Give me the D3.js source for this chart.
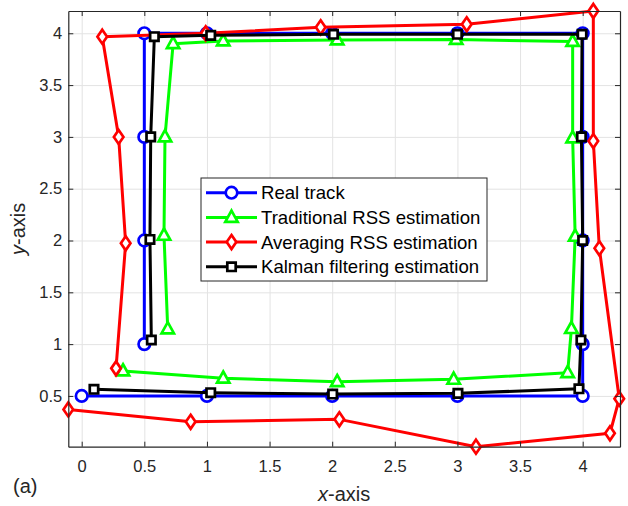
<!DOCTYPE html>
<html>
<head>
<meta charset="utf-8">
<script src="https://cdn.jsdelivr.net/npm/d3@7/dist/d3.min.js"></script>
<style>
  body { margin: 0; background: #fff; }
  svg { display: block; font-family: "Liberation Sans", Arial, Helvetica, sans-serif; }
</style>
</head>
<body>
<svg id="chart"></svg>
<script>
// series names (legend order)
const seriesNames = ["Real track", "Traditional RSS estimation", "Averaging RSS estimation", "Kalman filtering estimation"];

// real track
const realX = [0, 1, 2, 3, 4, 4, 4, 4, 4, 3, 2, 1, 0.5, 0.5, 0.5, 0.5];
const realY = [0.5, 0.5, 0.5, 0.5, 0.5, 1, 2, 3, 4, 4, 4, 4, 4, 3, 2, 1];

// traditional RSS
const tradX = [0.33, 1.13, 2.04, 2.97, 3.88, 3.91, 3.94, 3.92, 3.92, 2.99, 2.04, 1.13, 0.73, 0.665, 0.657, 0.687];
const tradY = [0.74, 0.67, 0.637, 0.66, 0.724, 1.15, 2.04, 2.99, 3.92, 3.94, 3.935, 3.925, 3.90, 3.0, 2.05, 1.146];

// averaging RSS
const avgX = [-0.107, 0.87, 2.057, 3.148, 4.218, 4.292, 4.133, 4.085, 4.085, 3.074, 1.908, 0.99, 0.164, 0.295, 0.351, 0.274];
const avgY = [0.37, 0.25, 0.274, 0.01, 0.139, 0.473, 1.925, 2.96, 4.215, 4.087, 4.058, 4.0, 3.967, 3.0, 1.973, 0.766];

// kalman filtering
const kalX = [0.098, 1.03, 2.004, 3.004, 3.97, 3.986, 4.0, 3.99, 3.995, 3.0, 2.01, 1.03, 0.58, 0.551, 0.545, 0.556];
const kalY = [0.564, 0.531, 0.518, 0.525, 0.569, 1.04, 2.0, 3.0, 3.99, 3.99, 3.99, 3.98, 3.967, 3.0, 2.01, 1.04];

const xTicks = [0, 0.5, 1, 1.5, 2, 2.5, 3, 3.5, 4];
const yTicks = [0.5, 1, 1.5, 2, 2.5, 3, 3.5, 4];

const width = 628, height = 506;
const plot = { left: 68.3, top: 11, right: 620, bottom: 446.7 };
const axisColor = "#262626";

const svg = d3.select("#chart").attr("width", width).attr("height", height);

const x = d3.scaleLinear().domain([-0.107, 4.298]).range([plot.left, plot.right]);
const y = d3.scaleLinear().domain([0.01, 4.215]).range([plot.bottom, plot.top]);
const pw = plot.right - plot.left, ph = plot.bottom - plot.top;

// grid
const grid = svg.append("g");
grid.append("g")
    .attr("transform", `translate(0,${plot.bottom})`)
    .call(d3.axisBottom(x).tickValues(xTicks).tickSize(-ph).tickFormat(""))
    .call(g => g.select(".domain").remove())
    .call(g => g.selectAll("line").attr("stroke", "#e3e3e3").attr("stroke-width", 1));
grid.append("g")
    .attr("transform", `translate(${plot.left},0)`)
    .call(d3.axisLeft(y).tickValues(yTicks).tickSize(-pw).tickFormat(""))
    .call(g => g.select(".domain").remove())
    .call(g => g.selectAll("line").attr("stroke", "#e3e3e3").attr("stroke-width", 1));

// series
const series = [
    { name: seriesNames[0], xs: realX, ys: realY, color: "#0000ff", marker: "circle" },
    { name: seriesNames[1], xs: tradX, ys: tradY, color: "#00ff00", marker: "triangle" },
    { name: seriesNames[2], xs: avgX, ys: avgY, color: "#ff0000", marker: "diamond" },
    { name: seriesNames[3], xs: kalX, ys: kalY, color: "#000000", marker: "square" }
];

function markerPath(type) {
    if (type === "circle") return d3.symbol(d3.symbolCircle, 105)();
    if (type === "triangle") return "M0,-6.8L6.2,4.4L-6.2,4.4Z";
    if (type === "diamond") return "M0,-7L4.8,0L0,7L-4.8,0Z";
    return "M-4.2,-4.2L4.2,-4.2L4.2,4.2L-4.2,4.2Z";
}

const line = d3.line().x(d => x(d[0])).y(d => y(d[1]));

const plotG = svg.append("g");
series.forEach(s => {
    const pts = s.xs.map((v, i) => [v, s.ys[i]]);
    const g = plotG.append("g");
    g.append("path")
        .datum(pts)
        .attr("d", line)
        .attr("fill", "none")
        .attr("stroke", s.color)
        .attr("stroke-width", 3)
        .attr("stroke-linejoin", "round");
    g.selectAll("path.m")
        .data(pts)
        .enter().append("path")
        .attr("class", "m")
        .attr("d", markerPath(s.marker))
        .attr("transform", d => `translate(${x(d[0])},${y(d[1])})`)
        .attr("fill", "#fff")
        .attr("stroke", s.color)
        .attr("stroke-width", 2.7);
});

// axes (box with inward ticks)
const axes = svg.append("g").attr("color", axisColor);
const xb = axes.append("g")
    .attr("transform", `translate(0,${plot.bottom})`)
    .call(d3.axisBottom(x).tickValues(xTicks).tickSizeInner(-5).tickSizeOuter(0).tickPadding(14).tickFormat(d3.format("")));
const xt = axes.append("g")
    .attr("transform", `translate(0,${plot.top})`)
    .call(d3.axisTop(x).tickValues(xTicks).tickSizeInner(-5).tickSizeOuter(0).tickFormat(""));
const yl = axes.append("g")
    .attr("transform", `translate(${plot.left},0)`)
    .call(d3.axisLeft(y).tickValues(yTicks).tickSizeInner(-5).tickSizeOuter(0).tickPadding(6).tickFormat(d3.format("")));
const yr = axes.append("g")
    .attr("transform", `translate(${plot.right},0)`)
    .call(d3.axisRight(y).tickValues(yTicks).tickSizeInner(-5).tickSizeOuter(0).tickFormat(""));
[xb, xt, yl, yr].forEach(a => {
    a.selectAll("text").attr("font-size", 16.5).attr("font-family", "Liberation Sans, Arial, sans-serif").attr("fill", "#262626");
    a.select(".domain").attr("stroke-width", 1.2);
    a.selectAll(".tick line").attr("stroke-width", 1);
});

// axis labels
const xLab = svg.append("text")
    .attr("x", (plot.left + plot.right) / 2)
    .attr("y", 501)
    .attr("text-anchor", "middle")
    .attr("font-size", 20)
    .attr("fill", "#262626");
xLab.append("tspan").attr("font-style", "italic").text("x");
xLab.append("tspan").text("-axis");

const yLab = svg.append("text")
    .attr("transform", `translate(25,${(plot.top + plot.bottom) / 2}) rotate(-90)`)
    .attr("text-anchor", "middle")
    .attr("font-size", 20)
    .attr("fill", "#262626");
yLab.append("tspan").attr("font-style", "italic").text("y");
yLab.append("tspan").text("-axis");

svg.append("text")
    .attr("x", 13)
    .attr("y", 492.5)
    .attr("font-size", 20)
    .attr("fill", "#262626")
    .text("(a)");

// legend
const legend = svg.append("g").attr("transform", "translate(201,178)");
legend.append("rect")
    .attr("width", 286)
    .attr("height", 103)
    .attr("fill", "#fff")
    .attr("stroke", axisColor)
    .attr("stroke-width", 1);
series.forEach((s, i) => {
    const cy = 14.7 + i * 24.7;
    const row = legend.append("g");
    row.append("line")
        .attr("x1", 5).attr("x2", 56)
        .attr("y1", cy).attr("y2", cy)
        .attr("stroke", s.color)
        .attr("stroke-width", 3);
    row.append("path")
        .attr("d", markerPath(s.marker))
        .attr("transform", `translate(30.5,${cy})`)
        .attr("fill", "#fff")
        .attr("stroke", s.color)
        .attr("stroke-width", 2.7);
    row.append("text")
        .attr("x", 60)
        .attr("y", cy)
        .attr("dy", "0.35em")
        .attr("font-size", 18.6)
        .attr("fill", "#000")
        .text(s.name);
});
</script>
</body>
</html>
